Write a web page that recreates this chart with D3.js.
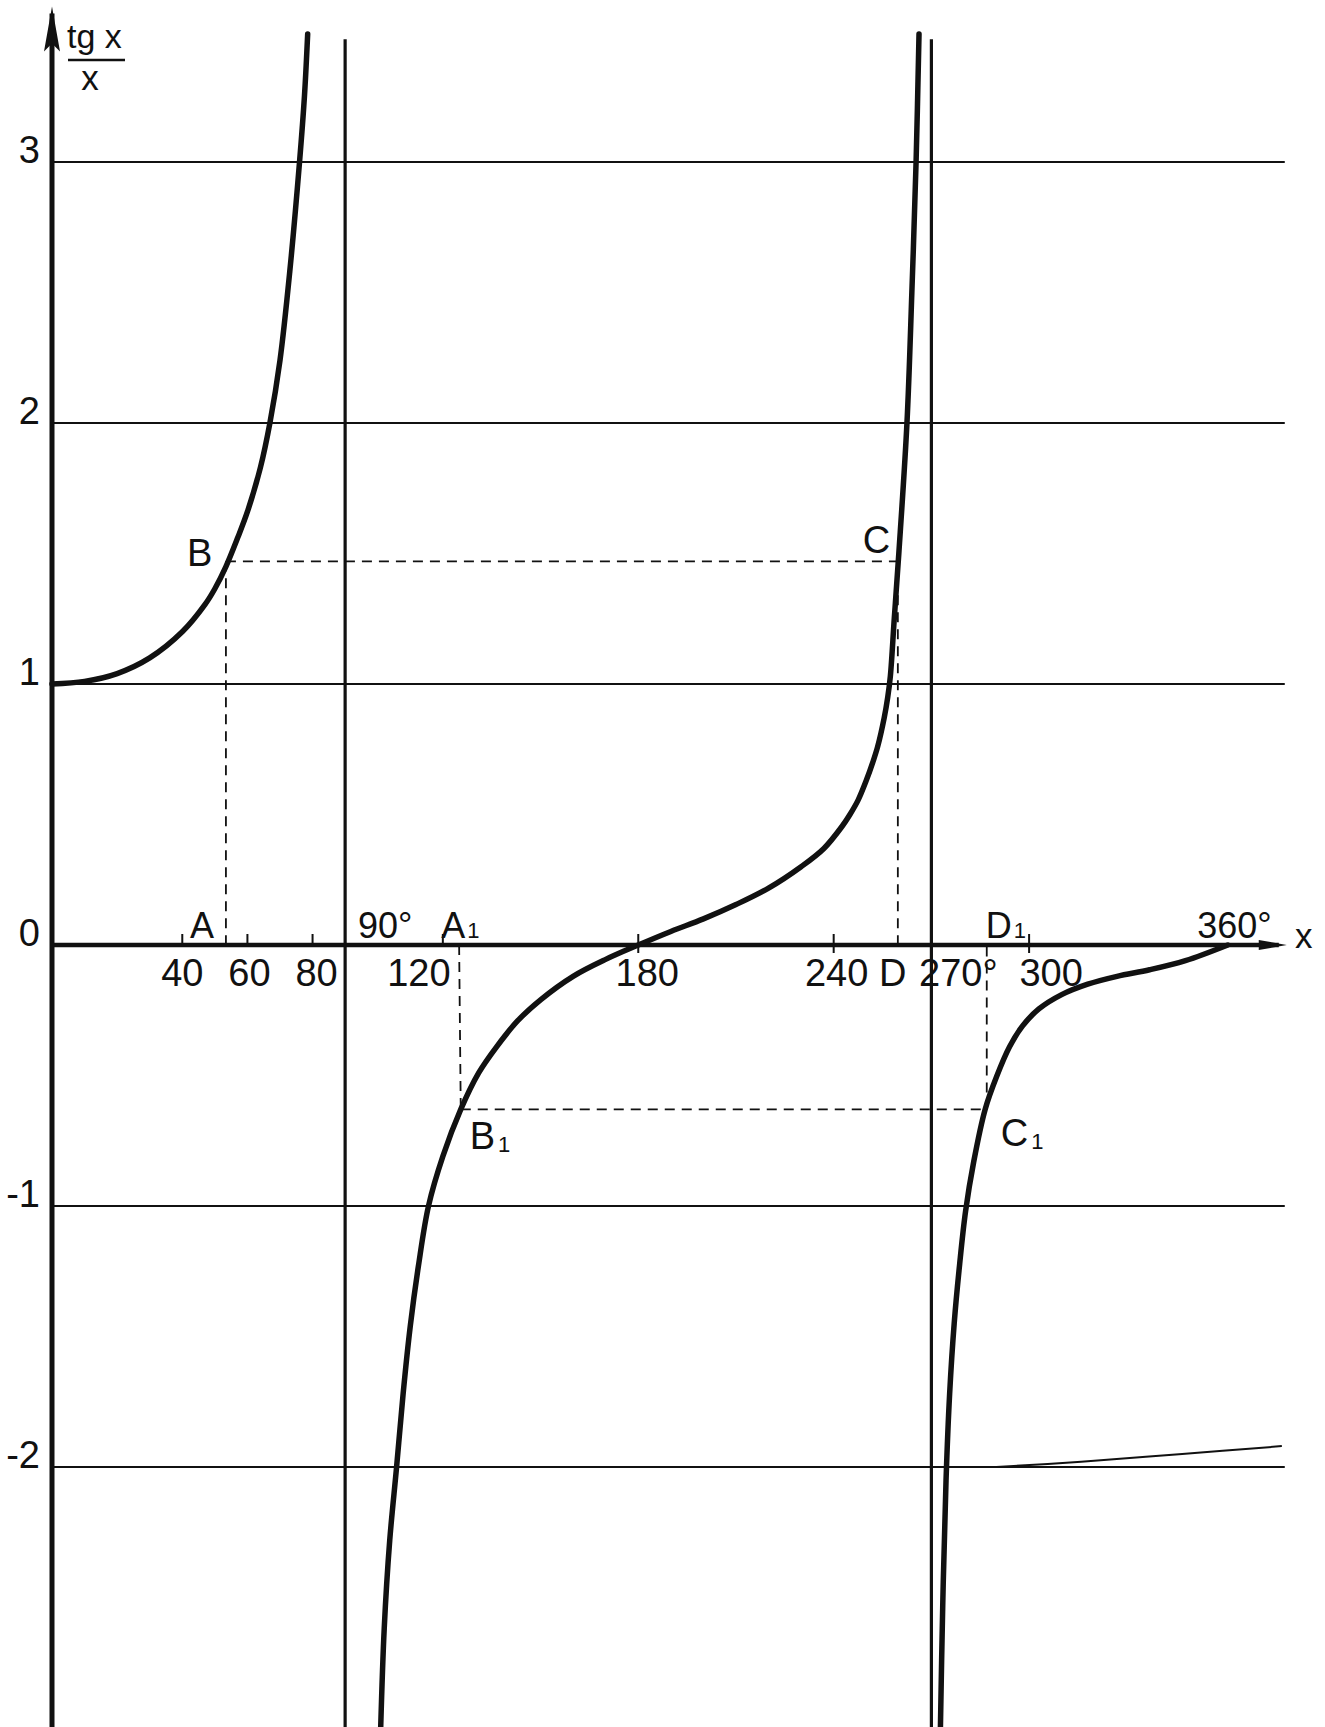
<!DOCTYPE html>
<html>
<head>
<meta charset="utf-8">
<script src="https://cdn.jsdelivr.net/npm/d3@7/dist/d3.min.js"></script>
<style>
  html, body { margin: 0; padding: 0; background: #fff; }
  svg { display: block; }
  text { font-family: "Liberation Sans", Arial, sans-serif; fill: #111; }
</style>
</head>
<body>
<svg id="chart" width="1325" height="1727"></svg>
<script>
// ---------- data (x in degrees, y = tg x / x) ----------
const branchLeft = [
  [0, 1.0], [10, 1.01], [20, 1.04], [30, 1.10], [40, 1.20], [47, 1.305],
  [50, 1.365], [53.4, 1.45], [57, 1.56], [60, 1.66], [64, 1.83], [66.9, 2.0],
  [70, 2.24], [73, 2.58], [76, 3.0], [77.5, 3.25], [78.5, 3.49]
];
const branchMiddle = [
  [100.8, -3.05], [102, -2.62], [103.7, -2.28], [105.8, -2.0], [107.8, -1.72],
  [110, -1.46], [112.5, -1.23], [115.6, -1.0], [120, -0.81], [125.5, -0.63],
  [131, -0.49], [136.5, -0.39], [143, -0.29], [150, -0.21], [160, -0.12],
  [170, -0.055], [180, 0], [190, 0.052], [200, 0.10], [210, 0.155],
  [220, 0.218], [230, 0.30], [237, 0.37], [242.6, 0.455], [245, 0.50],
  [247.5, 0.555], [250, 0.63], [252, 0.70], [253.5, 0.76], [255.5, 0.87],
  [256.6, 0.95], [257.4, 1.03], [258.6, 1.25], [260, 1.5], [262.5, 2.0],
  [264, 2.5], [265.3, 3.0], [266.2, 3.49]
];
const branchRight = [
  [272.7, -3.05], [273.5, -2.52], [274.5, -2.05], [275.6, -1.72], [277, -1.45],
  [278.7, -1.22], [280.5, -1.02], [283, -0.83], [286.5, -0.63], [290, -0.505],
  [294, -0.39], [298, -0.31], [303, -0.245], [310, -0.19], [318, -0.15],
  [327, -0.12], [337, -0.095], [348, -0.06], [361, 0]
];
const strayLine = [
  [289.9, -2.0], [316, -1.98], [347, -1.95], [377.6, -1.92]
];
const gridValues = [3, 2, 1, -1, -2];
const yTickValues = [3, 2, 1, 0, -1, -2];
const asymptotes = [90, 270];
const xTicks = [40, 60, 80, 120, 180, 240, 300];
const xTicksCrossing = [180, 240, 300];
const xTickLabels = [
  { v: 40, t: "40" }, { v: 60, t: "60" }, { v: 80, t: "80" }, { v: 120, t: "120" },
  { v: 180, t: "180" }, { v: 240, t: "240" }, { v: 259.7, t: "D" },
  { v: 270, t: "270°" }, { v: 300, t: "300" }
];
const upperLabels = [
  { v: 53.4, t: "A", sub: "" }, { v: 90, t: "90°", sub: "" },
  { v: 125, t: "A", sub: "1" }, { v: 287, t: "D", sub: "1" }, { v: 360, t: "360°", sub: "" }
];
const points = {
  A: [53.4, 0], B: [53.4, 1.47], C: [259.7, 1.47], D: [259.7, 0],
  A1: [125, 0], B1: [125.5, -0.63], C1: [287, -0.63], D1: [287, 0]
};
const dashedSegments = [["B", "C"], ["B", "A"], ["C", "D"], ["A1", "B1"], ["B1", "C1"], ["C1", "D1"]];

// ---------- layout ----------
const svg = d3.select("#chart");
const x = d3.scaleLinear().domain([0, 378.5]).range([52, 52 + 378.5 * 3.257]);
const y = d3.scaleLinear().domain([-3, 3.6]).range([1728, 5.4]);
const line = d3.line().x(d => x(d[0])).y(d => y(d[1])).curve(d3.curveCatmullRom.alpha(0.5));
const xEnd = x(378.5);

svg.append("defs").append("clipPath").attr("id", "clip")
  .append("rect").attr("x", 0).attr("y", 0).attr("width", 1325).attr("height", 1727);
const g = svg.append("g").attr("clip-path", "url(#clip)");

// grid lines
g.selectAll("line.grid").data(gridValues).join("line")
  .attr("x1", x(0)).attr("x2", xEnd)
  .attr("y1", d => y(d)).attr("y2", d => y(d))
  .attr("stroke", "#111").attr("stroke-width", 2);

// stray line near -2 on the right
g.append("path").datum(strayLine).attr("d", line)
  .attr("fill", "none").attr("stroke", "#111").attr("stroke-width", 2);

// asymptote verticals
g.selectAll("line.asym").data(asymptotes).join("line")
  .attr("x1", d => x(d)).attr("x2", d => x(d))
  .attr("y1", y(3.47)).attr("y2", 1727)
  .attr("stroke", "#111").attr("stroke-width", 3.2);

// dashed construction lines
g.selectAll("line.dash").data(dashedSegments).join("line")
  .attr("x1", d => x(points[d[0]][0])).attr("y1", d => y(points[d[0]][1]))
  .attr("x2", d => x(points[d[1]][0])).attr("y2", d => y(points[d[1]][1]))
  .attr("stroke", "#111").attr("stroke-width", 1.8).attr("stroke-dasharray", "10,7");

// y axis (thick) with arrow
g.append("line").attr("x1", x(0)).attr("x2", x(0)).attr("y1", y(3.6) + 8).attr("y2", 1727)
  .attr("stroke", "#111").attr("stroke-width", 5);
g.append("path")
  .attr("d", `M${x(0)},${y(3.6) + 1} L${x(0) - 8},${y(3.6) + 46} L${x(0)},${y(3.6) + 38} L${x(0) + 8},${y(3.6) + 46} Z`)
  .attr("fill", "#111");

// x axis (thick) with arrow
g.append("line").attr("x1", x(0)).attr("x2", xEnd - 6).attr("y1", y(0)).attr("y2", y(0))
  .attr("stroke", "#111").attr("stroke-width", 4.5);
g.append("path")
  .attr("d", `M${xEnd + 2},${y(0)} L${xEnd - 26},${y(0) - 5} L${xEnd - 26},${y(0) + 5} Z`)
  .attr("fill", "#111");

// small ticks on x axis
g.selectAll("line.tick").data(xTicks).join("line")
  .attr("x1", d => x(d)).attr("x2", d => x(d))
  .attr("y1", y(0) - 11)
  .attr("y2", d => xTicksCrossing.includes(d) ? y(0) + 8 : y(0))
  .attr("stroke", "#111").attr("stroke-width", 2);

// curves
[branchLeft, branchMiddle, branchRight].forEach(b => {
  g.append("path").datum(b).attr("d", line)
    .attr("fill", "none").attr("stroke", "#111").attr("stroke-width", 5.5)
    .attr("stroke-linecap", "round").attr("stroke-linejoin", "round");
});

// y axis labels via d3 axis
const yAxis = d3.axisLeft(y).tickValues(yTickValues).tickSize(0).tickPadding(0)
  .tickFormat(d => d < 0 ? "-" + Math.abs(d) : String(d));
const ya = svg.append("g").attr("transform", `translate(${x(0) - 12},0)`).call(yAxis);
ya.select(".domain").remove();
ya.selectAll("text").attr("font-size", 38).attr("dy", "0.02em").attr("fill", "#111")
  .style("font-family", "'Liberation Sans', Arial, sans-serif");

// x tick labels below axis
const belowNudge = { "40": 0, "60": 2, "80": 4, "120": -24, "180": 9, "240": 3, "D": -5, "270°": 27, "300": 22 };
svg.selectAll("text.xl").data(xTickLabels).join("text")
  .attr("x", d => x(d.v) + belowNudge[d.t]).attr("y", y(0) + 41)
  .attr("text-anchor", "middle").attr("font-size", 38).text(d => d.t);

// labels above axis
const aboveNudge = { "A": -24, "90°": 40, "A1": -18, "D1": -1, "360°": 10 };
upperLabels.forEach(d => {
  const t = svg.append("text")
    .attr("x", x(d.v) + aboveNudge[d.t + d.sub]).attr("y", y(0) - 7)
    .attr("text-anchor", d.sub ? "start" : "middle").attr("font-size", 36);
  t.append("tspan").text(d.t);
  if (d.sub) t.append("tspan").attr("dx", 2).attr("font-size", 22).attr("dy", 0).text(d.sub);
});
svg.append("text").attr("x", xEnd + 19).attr("y", y(0) + 3)
  .attr("text-anchor", "middle").attr("font-size", 35).text("x");

// point labels
function pointLabel(name, letter, sub, dx, dy) {
  const p = points[name];
  const t = svg.append("text").attr("x", x(p[0]) + dx).attr("y", y(p[1]) + dy).attr("font-size", 38);
  t.append("tspan").text(letter);
  if (sub) t.append("tspan").attr("dx", 3).attr("font-size", 22).attr("dy", 3).text(sub);
}
pointLabel("B", "B", "", -39, 5);
pointLabel("C", "C", "", -35, -8);
pointLabel("B1", "B", "1", 9, 40);
pointLabel("C1", "C", "1", 14, 37);

// y axis title: tg x / x
svg.append("text").attr("x", 67).attr("y", 48).attr("font-size", 34).text("tg x");
svg.append("line").attr("x1", 68).attr("x2", 125).attr("y1", 60).attr("y2", 60)
  .attr("stroke", "#111").attr("stroke-width", 2.5);
svg.append("text").attr("x", 90).attr("y", 90).attr("text-anchor", "middle").attr("font-size", 35).text("x");
</script>
</body>
</html>
